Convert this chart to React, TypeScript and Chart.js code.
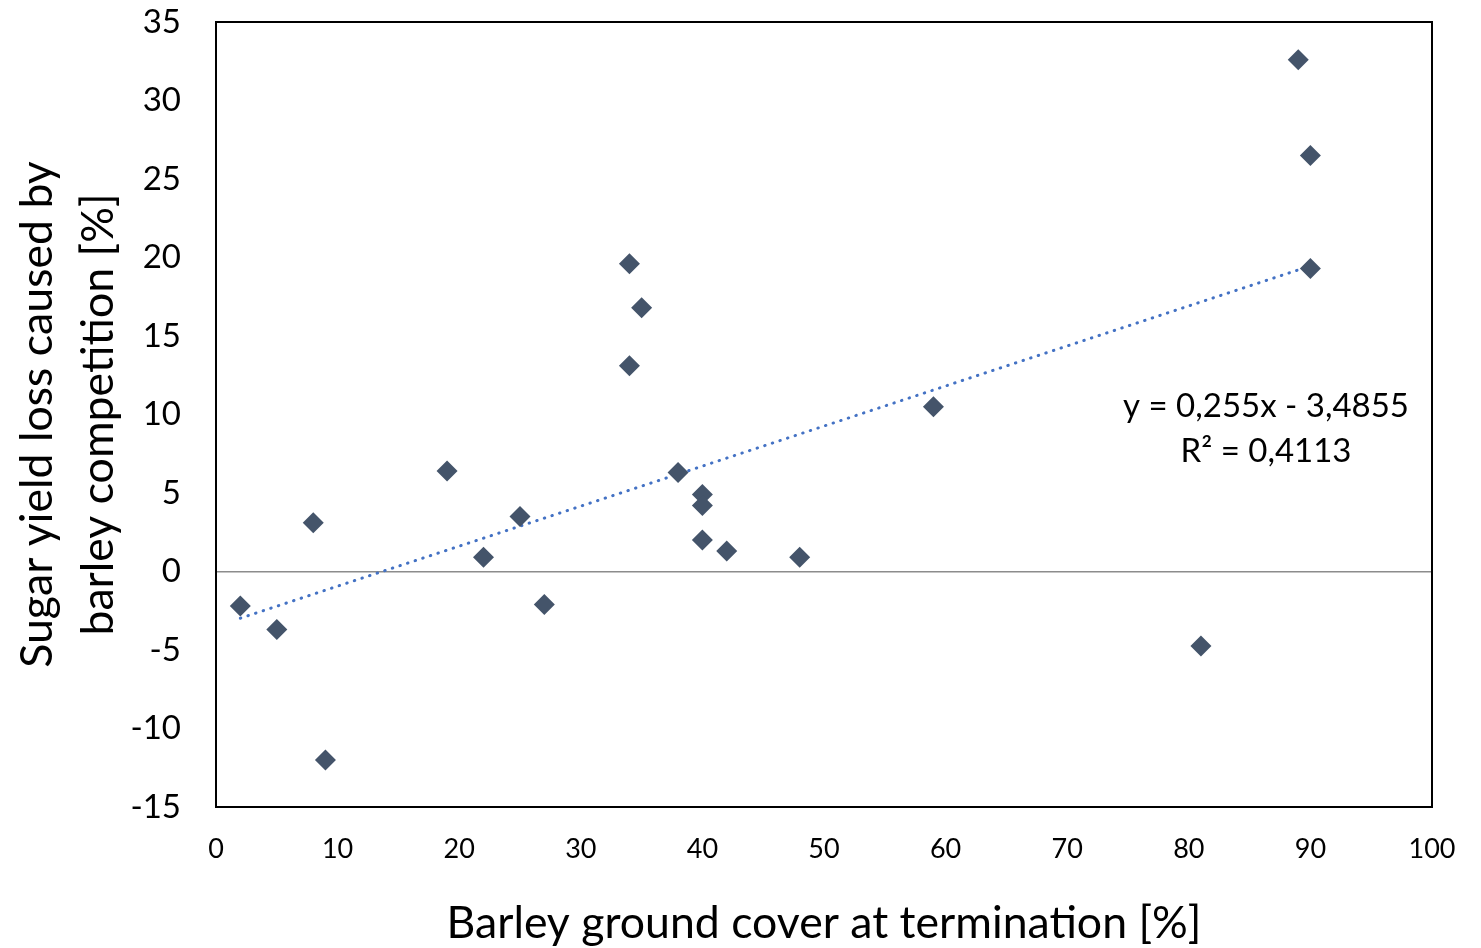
import React, { useEffect, useRef } from "react";
import { Chart, registerables } from "chart.js";

Chart.register(...registerables);

// Data
const coverValues = [2, 5, 8, 9, 19, 22, 25, 27, 34, 35, 34, 38, 40, 40, 40, 42, 48, 59, 81, 89, 90, 90];
const lossValues = [-2.2, -3.7, 3.1, -12.0, 6.4, 0.9, 3.5, -2.1, 19.6, 16.8, 13.1, 6.3, 4.9, 4.2, 2.0, 1.3, 0.9, 10.5, -4.75, 32.6, 26.5, 19.3];

// Linear trend line (from the equation shown on the chart)
const trendSlope = 0.255;
const trendIntercept = -3.4855;
const trendXRange = [2, 90];

const equationLines = ["y = 0,255x - 3,4855", "R\u00B2 = 0,4113"];

const xAxisTitle = "Barley ground cover at termination [%]";
const yAxisTitle = ["Sugar yield loss caused by", "barley competition [%]"];

const xMin = 0;
const xMax = 100;
const xStep = 10;
const yMin = -15;
const yMax = 35;
const yStep = 5;

const FONT = "Lato, 'Open Sans', sans-serif";

export default function App() {
  const canvasRef = useRef<HTMLCanvasElement | null>(null);

  useEffect(() => {
    document.body.style.margin = "0";
    const canvas = canvasRef.current;
    if (!canvas) return;

    const boxPlugin = {
      id: "boxPlugin",
      afterDraw(chart: any) {
        const { ctx, chartArea } = chart;
        ctx.save();
        ctx.strokeStyle = "#000000";
        ctx.lineWidth = 2;
        ctx.strokeRect(chartArea.left, chartArea.top, chartArea.right - chartArea.left, chartArea.bottom - chartArea.top);
        // equation text
        ctx.fillStyle = "#000000";
        ctx.font = `33px ${FONT}`;
        ctx.textAlign = "center";
        ctx.textBaseline = "middle";
        const cx = chartArea.left + (chartArea.right - chartArea.left) * 0.8635;
        const cy = chartArea.top + 384;
        equationLines.forEach((line, i) => {
          ctx.fillText(line, cx, cy + i * 45);
        });
        ctx.restore();
      },
    };

    const scatterData = coverValues.map((x, i) => ({ x, y: lossValues[i] }));
    const trendData = trendXRange.map((x) => ({ x, y: trendSlope * x + trendIntercept }));

    const chart = new Chart(canvas, {
      type: "scatter",
      data: {
        datasets: [
          {
            type: "line",
            label: "Trend",
            data: trendData,
            borderColor: "#4472C4",
            borderWidth: 3,
            borderDash: [0.5, 7.5],
            borderCapStyle: "round",
            pointRadius: 0,
            fill: false,
            order: 2,
          } as any,
          {
            label: "Yield loss",
            data: scatterData,
            pointStyle: "rectRot",
            pointRadius: 10.5,
            pointBackgroundColor: "#44546A",
            pointBorderColor: "#44546A",
            pointBorderWidth: 0,
            order: 1,
          },
        ],
      },
      options: {
        responsive: false,
        animation: false,
        layout: { padding: { top: 22, right: 49, left: 0, bottom: 0 } },
        plugins: {
          legend: { display: false },
          tooltip: { enabled: false },
        },
        scales: {
          x: {
            type: "linear",
            min: xMin,
            max: xMax,
            border: { display: false },
            grid: { display: false, drawTicks: false },
            ticks: {
              stepSize: xStep,
              color: "#000000",
              padding: 26,
              font: { family: FONT, size: 27 },
            },
            title: {
              display: true,
              text: xAxisTitle,
              color: "#000000",
              font: { family: FONT, size: 44.6, lineHeight: 1.2 },
              padding: { top: 0, bottom: -2 },
            },
            afterFit(scale: any) {
              scale.height = 141;
              scale.paddingLeft = 0;
              scale.paddingRight = 0;
            },
          },
          y: {
            type: "linear",
            min: yMin,
            max: yMax,
            border: { display: false },
            grid: {
              drawTicks: false,
              color: (c: any) => (c.tick && c.tick.value === 0 ? "#8c8c8c" : "rgba(0,0,0,0)"),
              lineWidth: 1.5,
            },
            ticks: {
              stepSize: yStep,
              color: "#000000",
              padding: 35,
              font: { family: FONT, size: 33 },
            },
            title: {
              display: true,
              text: yAxisTitle,
              color: "#000000",
              font: { family: FONT, size: 44.6, lineHeight: 1.35 },
              padding: { top: 8, bottom: 0 },
            },
            afterFit(scale: any) {
              scale.width = 216;
              scale.paddingTop = 0;
              scale.paddingBottom = 0;
            },
          },
        },
      },
      plugins: [boxPlugin],
    });

    return () => {
      chart.destroy();
    };
  }, []);

  return (
    <div style={{ width: 1481, height: 948 }}>
      <canvas ref={canvasRef} width={1481} height={948} />
    </div>
  );
}
